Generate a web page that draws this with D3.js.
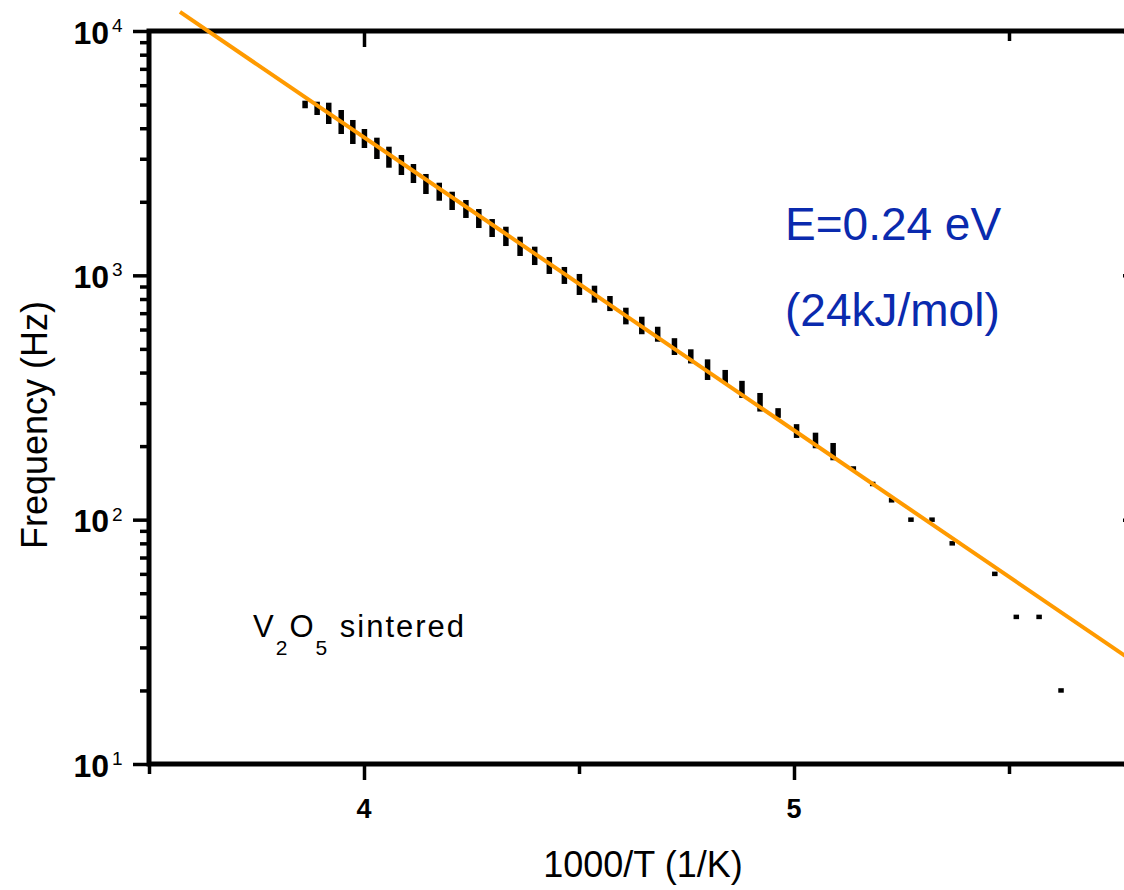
<!DOCTYPE html>
<html>
<head>
<meta charset="utf-8">
<script src="https://cdn.jsdelivr.net/npm/d3@7"></script>
<style>
  html, body { margin: 0; padding: 0; background: #ffffff; }
  svg { display: block; }
  text { font-family: "Liberation Sans", Arial, Helvetica, sans-serif; }
</style>
</head>
<body>
<svg id="chart" width="1124" height="890"></svg>
<script>
// Arrhenius plot of V2O5 (sintered): measured frequency vs 1000/T.
// Each measurement step spans a small frequency range (low..high).
const invT = [
  3.863, 3.891, 3.918, 3.947, 3.974, 4.001, 4.030, 4.058, 4.087, 4.115,
  4.144, 4.175, 4.205, 4.237, 4.267, 4.298, 4.330, 4.363, 4.397, 4.431,
  4.466, 4.501, 4.536, 4.572, 4.609, 4.646, 4.683, 4.722, 4.760, 4.799,
  4.840, 4.879, 4.921, 4.963, 5.006, 5.050, 5.091, 5.138, 5.183, 5.227,
  5.272, 5.321, 5.368, 5.467, 5.517, 5.570, 5.621
];
const freqLow = [
  4828, 4531, 4163, 3788, 3448, 3320, 2993, 2757, 2574, 2387,
  2152, 2020, 1851, 1717, 1562, 1435, 1318, 1200, 1102, 1013,
  922, 831, 773, 714, 630, 574, 535, 472, 436, 373,
  362, 315, 277, 261, 216, 196, 175, 160, 140, 120,
  100, 100, 80, 60, 40, 40, 20
];
const freqHigh = [
  5185, 5136, 5088, 4750, 4323, 3971, 3659, 3361, 3108, 2855,
  2599, 2394, 2199, 2034, 1868, 1700, 1581, 1439, 1310, 1189,
  1082, 1013, 907, 823, 737, 677, 616, 553, 498, 453,
  410, 370, 330, 286, 246, 227, 206, 164, 140, 120,
  100, 100, 80, 60, 40, 40, 20
];

// Linear Arrhenius fit (E = 0.24 eV), given by its two end points
const fitInvT = [3.572, 5.80];
const fitFreq = [11970, 25.5];

// Axis ticks
const xMajorTicks = [4, 5];
const xMajorLabels = ["4", "5"];
const xMinorTicks = [3.5, 4.5, 5.5];
const xTopMajorTicks = [4];
const xTopMinorTicks = [5.5];
const yDecades = [10, 100, 1000, 10000];
const yExponents = ["1", "2", "3", "4"];
const yMinorMantissas = [2, 3, 4, 5, 6, 7, 8, 9];

const xDomain = [3.5, 5.8];
const yDomain = [10, 10000];

const svg = d3.select("#chart");
const plotLeft = 149, plotRight = 1138, plotTop = 31, plotBottom = 764;

const x = d3.scaleLinear().domain(xDomain).range([plotLeft, plotRight]);
const y = d3.scaleLog().domain(yDomain).range([plotBottom, plotTop]);

const yMinor = [];
yDecades.slice(0, -1).forEach(d => yMinorMantissas.forEach(m => yMinor.push(d * m)));

const tickStroke = 3.5;

function styleAxis(g) {
  g.select(".domain").remove();
  g.selectAll(".tick line").attr("stroke", "#000").attr("stroke-width", tickStroke);
  g.selectAll(".tick text").remove();
}

// Bottom axis: outward ticks
svg.append("g").attr("transform", `translate(0,${plotBottom})`)
  .call(d3.axisBottom(x).tickValues(xMajorTicks).tickSize(16)).call(styleAxis);
svg.append("g").attr("transform", `translate(0,${plotBottom})`)
  .call(d3.axisBottom(x).tickValues(xMinorTicks).tickSize(10)).call(styleAxis);

// Top axis: inward ticks
svg.append("g").attr("transform", `translate(0,${plotTop})`)
  .call(d3.axisTop(x).tickValues(xTopMajorTicks).tickSize(-16)).call(styleAxis);
svg.append("g").attr("transform", `translate(0,${plotTop})`)
  .call(d3.axisTop(x).tickValues(xTopMinorTicks).tickSize(-10)).call(styleAxis);

// Left axis: outward ticks
svg.append("g").attr("transform", `translate(${plotLeft},0)`)
  .call(d3.axisLeft(y).tickValues(yDecades).tickSize(16)).call(styleAxis);
svg.append("g").attr("transform", `translate(${plotLeft},0)`)
  .call(d3.axisLeft(y).tickValues(yMinor).tickSize(9)).call(styleAxis);

// Right axis: inward ticks
svg.append("g").attr("transform", `translate(${plotRight},0)`)
  .call(d3.axisRight(y).tickValues(yDecades).tickSize(-15)).call(styleAxis);
svg.append("g").attr("transform", `translate(${plotRight},0)`)
  .call(d3.axisRight(y).tickValues(yMinor).tickSize(-8)).call(styleAxis);

// Plot frame
svg.append("rect")
  .attr("x", plotLeft).attr("y", plotTop)
  .attr("width", plotRight - plotLeft).attr("height", plotBottom - plotTop)
  .attr("fill", "none").attr("stroke", "#000").attr("stroke-width", 5);

// X tick labels
svg.selectAll("text.xlab").data(xMajorTicks).join("text")
  .attr("class", "xlab")
  .attr("x", d => x(d)).attr("y", plotBottom + 54)
  .attr("text-anchor", "middle")
  .attr("font-size", 27).attr("font-weight", "bold")
  .text((d, i) => xMajorLabels[i]);

// Y tick labels: 10 with superscript exponent
const ylab = svg.selectAll("g.ylab").data(yDecades).join("g").attr("class", "ylab");
ylab.append("text")
  .attr("x", 109).attr("y", d => y(d) + 12.5)
  .attr("text-anchor", "end")
  .attr("font-size", 32).attr("font-weight", "bold")
  .text("10");
ylab.append("text")
  .attr("x", 112).attr("y", d => y(d) + 1)
  .attr("font-size", 19)
  .text((d, i) => yExponents[i]);

// Axis titles
svg.append("text")
  .attr("x", 643).attr("y", 877)
  .attr("text-anchor", "middle").attr("font-size", 36)
  .text("1000/T (1/K)");
svg.append("text")
  .attr("transform", "translate(47,425) rotate(-90)")
  .attr("text-anchor", "middle").attr("font-size", 36)
  .text("Frequency (Hz)");

// Data markers
const pts = invT.map((v, i) => ({ x: v, lo: freqLow[i], hi: freqHigh[i] }));
svg.append("g").selectAll("rect").data(pts).join("rect")
  .attr("x", d => x(d.x) - 2.75)
  .attr("width", 5.5)
  .attr("y", d => {
    const t = y(d.hi), b = y(d.lo), h = Math.max(b - t, 4.5);
    return (t + b) / 2 - h / 2;
  })
  .attr("height", d => Math.max(y(d.lo) - y(d.hi), 4.5))
  .attr("fill", "#000");

// Fit line
const fit = fitInvT.map((v, i) => [v, fitFreq[i]]);
svg.append("path")
  .datum(fit)
  .attr("d", d3.line().x(d => x(d[0])).y(d => y(d[1])))
  .attr("fill", "none")
  .attr("stroke", "#ff9a00")
  .attr("stroke-width", 4);

// Annotations
const blue = "#0a2aae";
svg.append("text")
  .attr("x", 785).attr("y", 240)
  .attr("font-size", 46).attr("fill", blue)
  .text("E=0.24 eV");
svg.append("text")
  .attr("x", 785).attr("y", 326)
  .attr("font-size", 46).attr("fill", blue)
  .text("(24kJ/mol)");

const sample = svg.append("text")
  .attr("x", 253).attr("y", 637)
  .attr("font-size", 31).attr("letter-spacing", 2);
sample.append("tspan").text("V");
sample.append("tspan").attr("font-size", 21).attr("dy", 18).text("2");
sample.append("tspan").attr("dy", -18).text("O");
sample.append("tspan").attr("font-size", 21).attr("dy", 18).text("5");
sample.append("tspan").attr("dy", -18).text(" sintered");
</script>
</body>
</html>
